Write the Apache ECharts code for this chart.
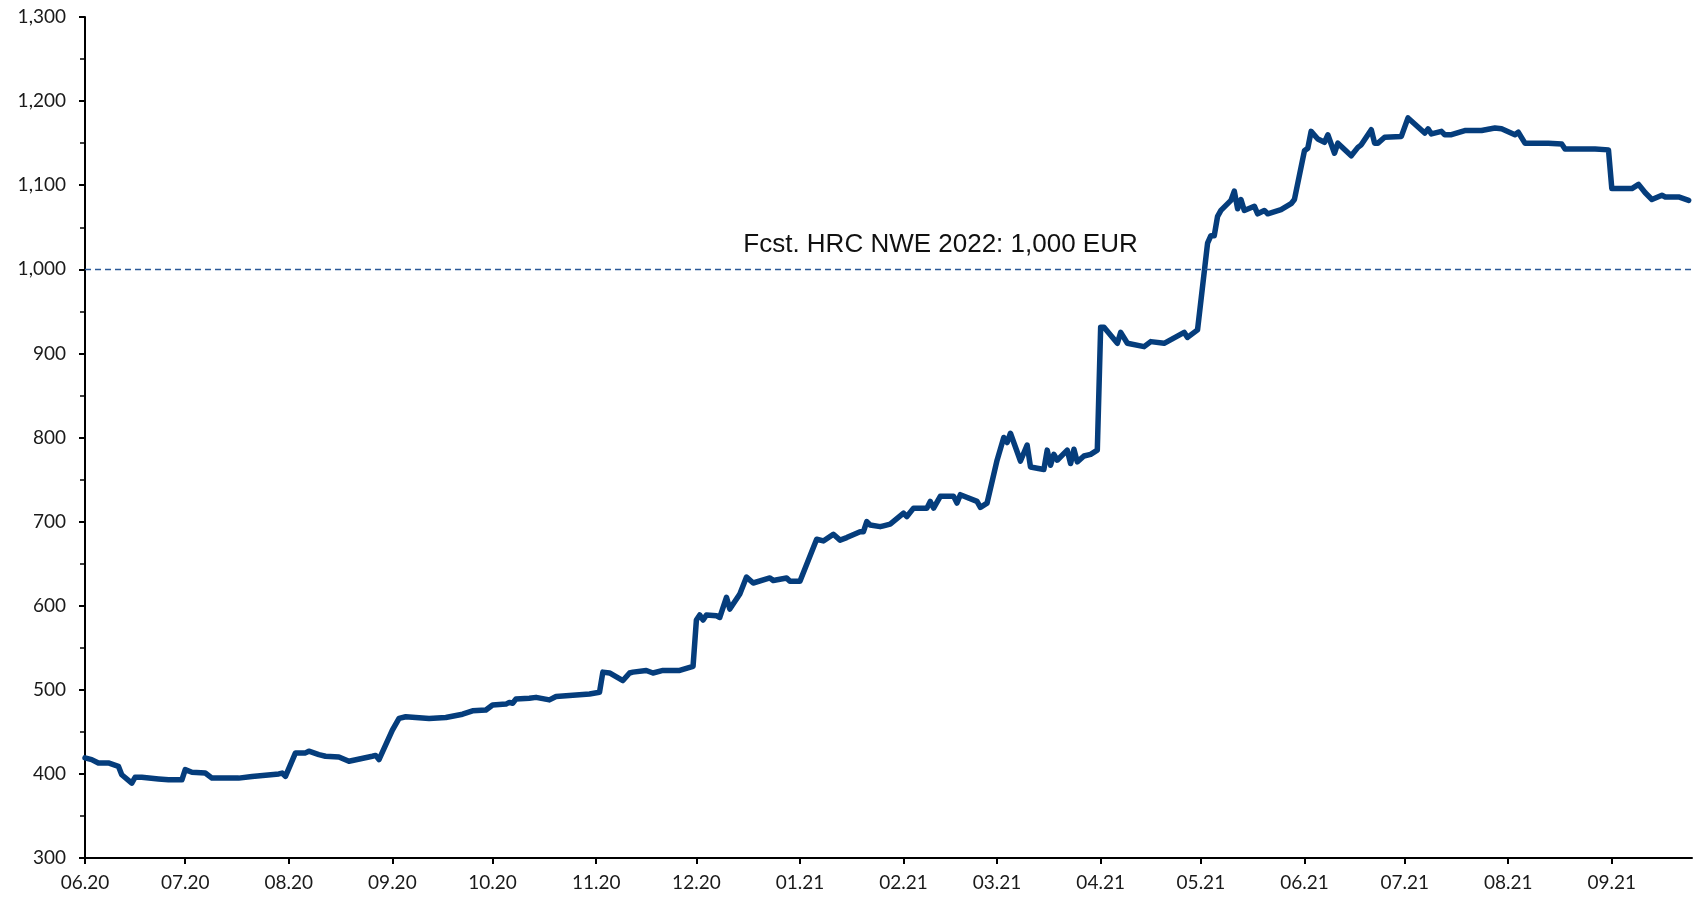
<!DOCTYPE html>
<html>
<head>
<meta charset="utf-8">
<title>HRC NWE</title>
<script src="https://cdn.jsdelivr.net/npm/echarts@6/dist/echarts.min.js"></script>
<style>
  html, body { margin: 0; padding: 0; background: #ffffff; }
  #chart { width: 1704px; height: 900px; }
</style>
</head>
<body>
<div id="chart"></div>
<script>
// HRC NWE price, EUR/t
var dates = [
  '2020-06-01', '2020-06-03', '2020-06-05', '2020-06-08', '2020-06-11', '2020-06-12', '2020-06-15', '2020-06-16',
  '2020-06-18', '2020-06-23', '2020-06-26', '2020-06-30', '2020-07-01', '2020-07-03', '2020-07-07', '2020-07-09',
  '2020-07-17', '2020-07-21', '2020-07-29', '2020-07-30', '2020-07-31', '2020-08-03', '2020-08-06', '2020-08-07',
  '2020-08-10', '2020-08-12', '2020-08-16', '2020-08-19', '2020-08-26', '2020-08-27', '2020-08-28', '2020-09-01',
  '2020-09-03', '2020-09-05', '2020-09-08', '2020-09-12', '2020-09-17', '2020-09-22', '2020-09-25', '2020-09-29',
  '2020-10-01', '2020-10-05', '2020-10-06', '2020-10-07', '2020-10-08', '2020-10-12', '2020-10-14', '2020-10-18',
  '2020-10-20', '2020-10-27', '2020-10-30', '2020-11-02', '2020-11-03', '2020-11-05', '2020-11-09', '2020-11-11',
  '2020-11-12', '2020-11-16', '2020-11-18', '2020-11-21', '2020-11-26', '2020-11-30', '2020-12-01', '2020-12-02',
  '2020-12-03', '2020-12-04', '2020-12-07', '2020-12-08', '2020-12-10', '2020-12-11', '2020-12-14', '2020-12-16',
  '2020-12-18', '2020-12-23', '2020-12-24', '2020-12-28', '2020-12-29', '2021-01-01', '2021-01-06', '2021-01-08',
  '2021-01-11', '2021-01-13', '2021-01-15', '2021-01-19', '2021-01-20', '2021-01-21', '2021-01-22', '2021-01-25',
  '2021-01-26', '2021-01-28', '2021-02-01', '2021-02-02', '2021-02-04', '2021-02-08', '2021-02-09', '2021-02-10',
  '2021-02-12', '2021-02-16', '2021-02-17', '2021-02-18', '2021-02-23', '2021-02-24', '2021-02-26', '2021-03-01',
  '2021-03-03', '2021-03-04', '2021-03-05', '2021-03-08', '2021-03-10', '2021-03-11', '2021-03-15', '2021-03-16',
  '2021-03-17', '2021-03-18', '2021-03-19', '2021-03-22', '2021-03-23', '2021-03-24', '2021-03-25', '2021-03-27',
  '2021-03-29', '2021-03-31', '2021-04-01', '2021-04-02', '2021-04-06', '2021-04-07', '2021-04-09', '2021-04-14',
  '2021-04-16', '2021-04-20', '2021-04-26', '2021-04-27', '2021-04-30', '2021-05-03', '2021-05-04', '2021-05-05',
  '2021-05-06', '2021-05-07', '2021-05-10', '2021-05-11', '2021-05-12', '2021-05-13', '2021-05-14', '2021-05-17',
  '2021-05-18', '2021-05-20', '2021-05-21', '2021-05-25', '2021-05-28', '2021-05-29', '2021-06-01', '2021-06-02',
  '2021-06-03', '2021-06-05', '2021-06-07', '2021-06-08', '2021-06-10', '2021-06-11', '2021-06-15', '2021-06-17',
  '2021-06-18', '2021-06-21', '2021-06-22', '2021-06-23', '2021-06-25', '2021-06-30', '2021-07-02', '2021-07-07',
  '2021-07-08', '2021-07-09', '2021-07-12', '2021-07-13', '2021-07-15', '2021-07-19', '2021-07-24', '2021-07-28',
  '2021-07-30', '2021-08-03', '2021-08-04', '2021-08-06', '2021-08-13', '2021-08-17', '2021-08-18', '2021-08-27',
  '2021-08-31', '2021-09-01', '2021-09-07', '2021-09-09', '2021-09-11', '2021-09-13', '2021-09-16', '2021-09-17',
  '2021-09-21', '2021-09-24'
]
var prices = [
  419, 417, 413, 413, 409, 399, 389, 396,
  396, 394, 393, 393, 405, 402, 401, 395,
  395, 397, 400, 401, 397, 425, 425, 427,
  423, 421, 420, 415, 421, 422, 417, 452,
  466, 468, 467, 466, 467, 471, 475, 476,
  482, 483, 485, 484, 489, 490, 491, 488,
  492, 494, 495, 497, 521, 520, 511, 520,
  521, 523, 520, 523, 523, 528, 583, 589,
  583, 589, 588, 586, 610, 596, 614, 634,
  627, 633, 630, 633, 629, 629, 679, 677,
  685, 678, 681, 688, 688, 700, 696, 694,
  695, 697, 710, 706, 716, 716, 724, 716,
  730, 730, 722, 732, 724, 717, 722, 773,
  800, 794, 805, 772, 791, 765, 762, 785,
  767, 780, 773, 785, 769, 786, 771, 778,
  780, 785, 931, 931, 912, 925, 912, 908,
  914, 912, 925, 919, 928, 1031, 1040, 1040,
  1063, 1070, 1082, 1093, 1072, 1083, 1070, 1075,
  1066, 1070, 1066, 1071, 1078, 1083, 1141, 1144,
  1164, 1155, 1151, 1160, 1138, 1150, 1135, 1145,
  1148, 1166, 1150, 1150, 1157, 1158, 1180, 1162,
  1167, 1161, 1164, 1160, 1160, 1165, 1165, 1168,
  1167, 1160, 1163, 1150, 1150, 1149, 1143, 1143,
  1142, 1096, 1096, 1101, 1091, 1083, 1088, 1086,
  1086, 1082
]

// month ticks on the x axis
var monthTicks = [
  '2020-06-01', '2020-07-01', '2020-08-01', '2020-09-01', '2020-10-01', '2020-11-01', '2020-12-01',
  '2021-01-01', '2021-02-01', '2021-03-01', '2021-04-01', '2021-05-01', '2021-06-01', '2021-07-01',
  '2021-08-01', '2021-09-01'
]
var xStart = '2020-06-01'
var xEnd = '2021-09-25'

var forecast = 1000
var forecastLabel = 'Fcst. HRC NWE 2022: 1,000 EUR'

var toTime = function (s) { return +echarts.number.parseDate(s) }
var seriesData = dates.map(function (d, i) { return [toTime(d), prices[i]] })
var tickValues = monthTicks.map(toTime)

var pad = function (n) { return n < 10 ? '0' + n : '' + n }
var labelFont = 'Lato, "Open Sans", sans-serif'

var chart = echarts.init(document.getElementById('chart'))
chart.setOption({
  animation: false,
  backgroundColor: '#ffffff',
  grid: { left: 85, right: 12, top: 17, bottom: 42 },
  xAxis: {
    type: 'value',
    min: toTime(xStart),
    max: toTime(xEnd),
    splitLine: { show: false },
    axisLine: { lineStyle: { color: '#000000', width: 2 } },
    axisTick: {
      customValues: tickValues,
      length: 6,
      lineStyle: { color: '#000000', width: 2 }
    },
    axisLabel: {
      customValues: tickValues,
      margin: 15,
      color: '#1a1a1a',
      fontSize: 19,
      fontFamily: labelFont,
      formatter: function (v) {
        var d = new Date(v)
        return pad(d.getMonth() + 1) + '.' + String(d.getFullYear()).slice(2)
      }
    }
  },
  yAxis: {
    type: 'value',
    min: 300,
    max: 1300,
    interval: 100,
    splitLine: { show: false },
    axisLine: { show: true, lineStyle: { color: '#000000', width: 2 } },
    axisTick: { show: true, length: 6, lineStyle: { color: '#000000', width: 2 } },
    minorTick: { show: true, splitNumber: 2, length: 5, lineStyle: { color: '#000000', width: 1.5 } },
    axisLabel: {
      margin: 19,
      color: '#1a1a1a',
      fontSize: 19,
      fontFamily: labelFont,
      formatter: function (v) { return v.toLocaleString('en-US') }
    }
  },
  series: [{
    name: 'HRC NWE',
    type: 'line',
    data: seriesData,
    showSymbol: false,
    symbol: 'none',
    smooth: false,
    clip: false,
    lineStyle: { color: '#053d7c', width: 5.5, join: 'round', cap: 'round' },
    markLine: {
      silent: true,
      symbol: 'none',
      lineStyle: { color: '#2b5a98', width: 1.3, type: [6, 4] },
      label: {
        show: true,
        position: 'insideMiddleTop',
        distance: 11,
        padding: [0, 0, 0, 104],
        formatter: forecastLabel,
        color: '#111111',
        fontSize: 26,
        fontFamily: '"Liberation Sans", Arial, sans-serif'
      },
      data: [{ yAxis: forecast }]
    }
  }]
})
</script>
</body>
</html>
